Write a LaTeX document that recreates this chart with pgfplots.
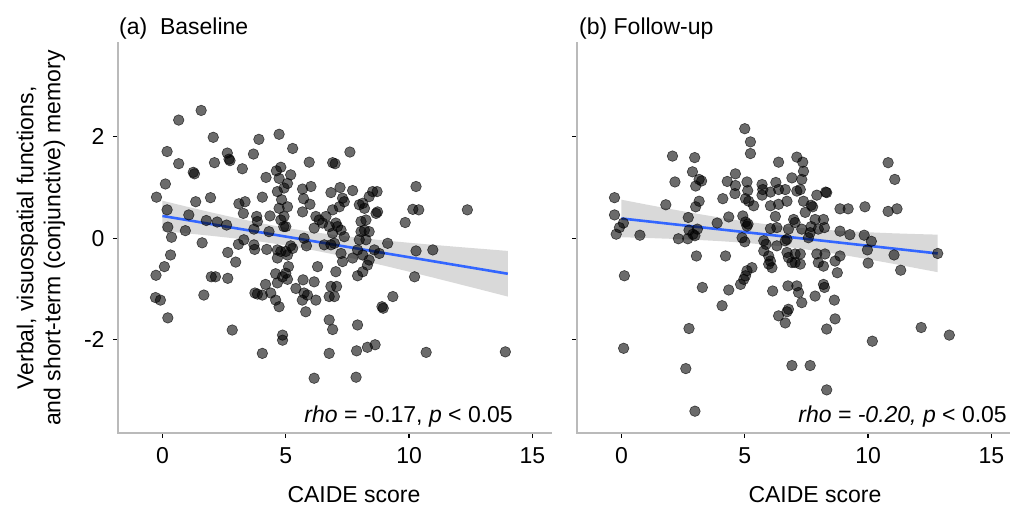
\documentclass[border=0pt]{standalone}
\usepackage{pgfplots}
\pgfplotsset{compat=1.18}
\usepackage{fontspec}
\setmainfont{Liberation Sans}
\newcommand\fs{\fontsize{23}{27}\selectfont}
\definecolor{smoothblue}{RGB}{51,102,255}
\pgfplotsset{
  panel/.style={
    width=433pt, height=390pt, scale only axis,
    xmin=-1.8, xmax=15.75, ymin=-3.84, ymax=3.85,
    axis x line*=bottom, axis y line*=left,
    axis line style={line width=2.8pt, color=black!27, line cap=rect},
    xtick={0,5,10,15}, ytick={-2,0,2},
    tick align=outside, major tick length=5pt,
    tick style={line width=1.3pt, black},
    /pgf/number format/assume math mode=true,
    ticklabel style={font=\fs},
    xticklabel style={yshift=-6pt},
    yticklabel style={xshift=-5pt},
  },
  pts/.style={only marks, mark=*, mark size=5.3pt,
    mark options={fill=black, fill opacity=0.58, draw=black, draw opacity=0.65, line width=0.6pt}},
  band/.style={fill=black!15, draw=none},
  fit/.style={smoothblue, line width=2.6pt},
}
\begin{document}
\begin{tikzpicture}
\begin{axis}[panel, at={(0pt,0pt)}, anchor=south west, yticklabels={-2,0,2}]
\addplot[band] coordinates {(0,0.740) (1,0.622) (2,0.507) (3,0.398) (4,0.296) (5,0.206) (6,0.129) (7,0.063) (8,0.007) (9,-0.044) (10,-0.089) (11,-0.131) (12,-0.172) (13,-0.211) (14,-0.250)
 (14,-1.150) (13,-1.025) (12,-0.902) (11,-0.779) (10,-0.659) (9,-0.542) (8,-0.429) (7,-0.323) (6,-0.225) (5,-0.140) (4,-0.068) (3,-0.006) (2,0.047) (1,0.096) (0,0.140)};
\addplot[fit] coordinates {(0,0.44) (14,-0.70)};
\addplot[pts] table {
x y
1.57 2.52
0.66 2.33
2.06 1.99
4.73 2.05
3.91 1.95
5.28 1.77
0.19 1.71
2.63 1.68
3.69 1.66
2.74 1.53
2.70 1.56
0.66 1.47
2.11 1.49
3.24 1.37
5.95 1.50
1.30 1.27
1.25 1.30
4.20 1.20
4.62 1.33
4.80 1.40
5.20 1.25
4.73 1.18
5.07 1.08
4.93 0.99
0.12 1.07
-0.24 0.81
1.35 0.72
1.95 0.80
3.10 0.68
3.35 0.72
3.28 0.49
4.05 0.81
4.66 0.92
4.83 0.76
4.73 0.59
5.07 0.62
4.93 0.43
4.80 0.36
5.68 0.97
6.02 1.02
5.72 0.78
5.98 0.67
5.68 0.52
0.19 0.56
1.07 0.46
1.78 0.35
2.22 0.32
2.60 0.26
3.82 0.43
3.85 0.33
3.71 0.18
4.36 0.44
4.32 0.13
0.22 0.22
0.93 0.15
0.37 0.02
1.61 -0.09
3.30 -0.03
3.08 -0.12
3.71 -0.13
3.74 -0.22
4.23 -0.22
0.33 -0.33
2.65 -0.28
2.97 -0.47
0.08 -0.56
7.60 1.70
6.90 1.49
7.00 1.47
6.83 0.90
7.20 1.00
7.71 0.94
7.30 0.79
7.37 0.72
7.17 0.62
6.90 0.56
8.52 0.92
8.38 0.82
8.12 0.69
7.98 0.66
8.19 0.59
4.92 0.23
5.00 0.23
6.22 0.43
6.35 0.36
6.63 0.43
6.49 0.30
6.15 0.20
6.76 0.23
7.03 0.30
7.10 0.23
7.24 0.16
7.37 0.03
6.90 0.10
8.05 0.33
8.25 0.36
8.19 0.16
8.05 0.13
8.38 0.13
8.25 -0.03
7.98 -0.03
5.74 0.00
5.84 -0.15
6.56 -0.13
6.83 -0.13
6.97 -0.10
4.66 -0.23
4.80 -0.26
5.00 -0.26
5.20 -0.15
5.28 -0.20
5.07 -0.33
4.66 -0.39
7.24 -0.30
7.30 -0.46
7.71 -0.39
7.91 -0.23
8.12 -0.33
8.38 -0.43
8.31 -0.53
6.29 -0.56
7.03 -0.66
7.91 -0.74
8.12 -0.66
5.11 -0.56
5.00 -0.69
4.87 -0.76
4.59 -0.70
4.66 -0.88
5.07 -0.81
5.41 -0.99
5.70 -0.82
6.15 -0.86
2.65 -0.79
2.15 -0.76
4.18 -0.91
3.75 -1.08
3.85 -1.10
4.05 -1.12
4.39 -1.08
4.59 -1.22
4.73 -1.35
5.74 -1.08
5.88 -1.12
5.67 -1.22
6.22 -1.22
5.81 -1.45
6.83 -0.95
7.06 -0.95
6.76 -1.15
6.97 -1.15
6.76 -1.61
6.90 -1.80
7.91 -1.71
2.83 -1.81
4.87 -1.91
4.87 -2.01
-0.26 -0.73
-0.28 -1.17
-0.08 -1.22
0.22 -1.57
1.98 -0.76
1.68 -1.12
4.05 -2.27
6.15 -2.76
6.76 -2.27
10.28 -0.25
10.96 -0.23
10.22 -0.76
9.34 -1.15
8.90 -1.35
8.95 -1.38
7.87 -2.22
8.31 -2.15
8.62 -2.10
7.85 -2.74
10.69 -2.25
13.90 -2.24
8.79 -0.30
8.59 -0.23
10.28 1.02
12.36 0.56
10.15 0.57
10.39 0.56
9.84 0.31
9.13 -0.10
8.70 0.92
8.72 0.52
8.66 0.49
};
\end{axis}
\begin{axis}[panel, at={(459pt,0pt)}, anchor=south west, yticklabels={}]
\addplot[band] coordinates {(0,0.760) (1,0.666) (2,0.575) (3,0.489) (4,0.407) (5,0.332) (6,0.268) (7,0.215) (8,0.175) (9,0.143) (10,0.118) (11,0.098) (12,0.082) (12.82,0.071)
 (12.82,-0.669) (12,-0.594) (11,-0.502) (10,-0.414) (9,-0.331) (8,-0.255) (7,-0.189) (6,-0.134) (5,-0.090) (4,-0.057) (3,-0.031) (2,-0.011) (1,0.006) (0,0.020)};
\addplot[fit] coordinates {(0,0.39) (12.82,-0.30)};
\addplot[pts] table {
x y
5.00 2.16
5.23 1.90
5.23 1.67
2.07 1.62
2.97 1.59
6.37 1.50
2.88 1.31
3.15 1.16
3.25 1.13
3.01 1.03
2.17 1.11
4.29 1.12
4.62 1.27
4.62 1.04
4.60 0.88
5.09 1.11
5.12 0.94
5.03 0.78
5.16 0.73
5.36 0.64
5.70 1.06
5.73 0.96
5.70 0.85
6.04 0.91
6.26 1.10
6.37 0.96
6.04 0.64
6.37 0.67
6.24 0.43
6.30 0.21
6.04 0.19
-0.28 0.80
-0.28 0.46
0.08 0.30
-0.08 0.21
-0.21 0.08
0.75 0.06
1.80 0.66
3.15 0.73
3.01 0.62
4.11 0.78
2.71 0.41
2.74 0.16
2.90 0.08
2.98 0.05
3.08 0.18
2.31 -0.01
2.69 -0.01
3.88 0.30
4.35 0.42
4.92 0.44
5.03 0.32
5.09 0.24
5.13 0.28
4.89 0.01
5.00 -0.07
5.77 -0.05
5.86 -0.12
5.77 -0.25
5.97 -0.35
6.04 -0.45
5.97 -0.51
6.30 -0.15
6.64 -0.05
3.04 -0.35
4.22 -0.35
0.12 -0.74
5.29 -0.58
5.09 -0.64
5.03 -0.74
4.96 -0.81
4.83 -0.91
7.11 1.60
7.35 1.50
7.38 1.32
7.31 1.16
6.91 1.19
7.25 0.96
7.11 0.93
7.38 0.73
7.45 0.51
7.69 0.65
7.92 0.85
8.28 0.91
8.86 0.58
9.19 0.58
8.19 0.37
8.23 0.21
7.85 0.37
7.69 0.23
7.65 0.11
7.58 0.01
7.98 0.18
8.86 0.14
6.64 0.96
6.71 0.73
6.77 0.18
6.98 0.37
7.04 0.31
7.31 0.18
6.71 -0.02
6.10 -0.58
6.71 -0.28
6.77 -0.38
7.04 -0.31
7.25 -0.31
7.04 -0.48
7.25 -0.51
6.91 -0.48
7.92 -0.31
8.25 -0.31
7.98 -0.48
8.19 -0.55
8.66 -0.45
8.86 -0.35
8.75 -0.68
4.35 -1.02
3.28 -0.97
4.08 -1.33
6.13 -1.04
6.75 -0.94
7.11 -0.94
7.18 -1.07
7.31 -1.27
7.85 -1.14
8.19 -0.91
8.23 -0.97
8.63 -1.22
6.77 -1.40
6.71 -1.45
6.37 -1.53
6.64 -1.67
8.66 -1.59
8.32 -1.79
2.74 -1.78
6.91 -2.51
7.65 -2.51
10.81 1.49
11.08 1.16
8.32 0.90
7.75 0.62
9.87 0.62
10.81 0.53
11.17 0.58
9.26 0.07
9.84 0.06
10.13 -0.06
9.97 -0.23
10.00 -0.49
11.05 -0.33
11.32 -0.63
12.82 -0.30
0.09 -2.17
2.61 -2.57
2.98 -3.41
12.15 -1.76
13.29 -1.91
10.17 -2.03
8.32 -2.99
};
\end{axis}
\node[anchor=base west, font=\fs, inner sep=0pt] at (1pt,398pt) {(a)\ \ Baseline};
\node[anchor=base west, font=\fs, inner sep=0pt] at (461pt,398pt) {(b) Follow-up};
\node[anchor=base east, font=\fs, inner sep=0pt] at (395pt,10pt) {\textit{rho} = -0.17, \textit{p} < 0.05};
\node[anchor=base east, font=\fs, inner sep=0pt] at (889pt,10pt) {\textit{rho = -0.20,} \textit{p} < 0.05};
\node[anchor=base, font=\fs, inner sep=0pt] at (236pt,-70pt) {CAIDE score};
\node[anchor=base, font=\fs, inner sep=0pt] at (697pt,-70pt) {CAIDE score};
\node[rotate=90, align=center, font=\fs, inner sep=0pt] at (-77pt,195pt) {Verbal, visuospatial functions,\\and short-term (conjunctive) memory};
\pgfresetboundingbox
\path (-118pt,-73pt) rectangle (892pt,433pt);
\end{tikzpicture}
\end{document}
